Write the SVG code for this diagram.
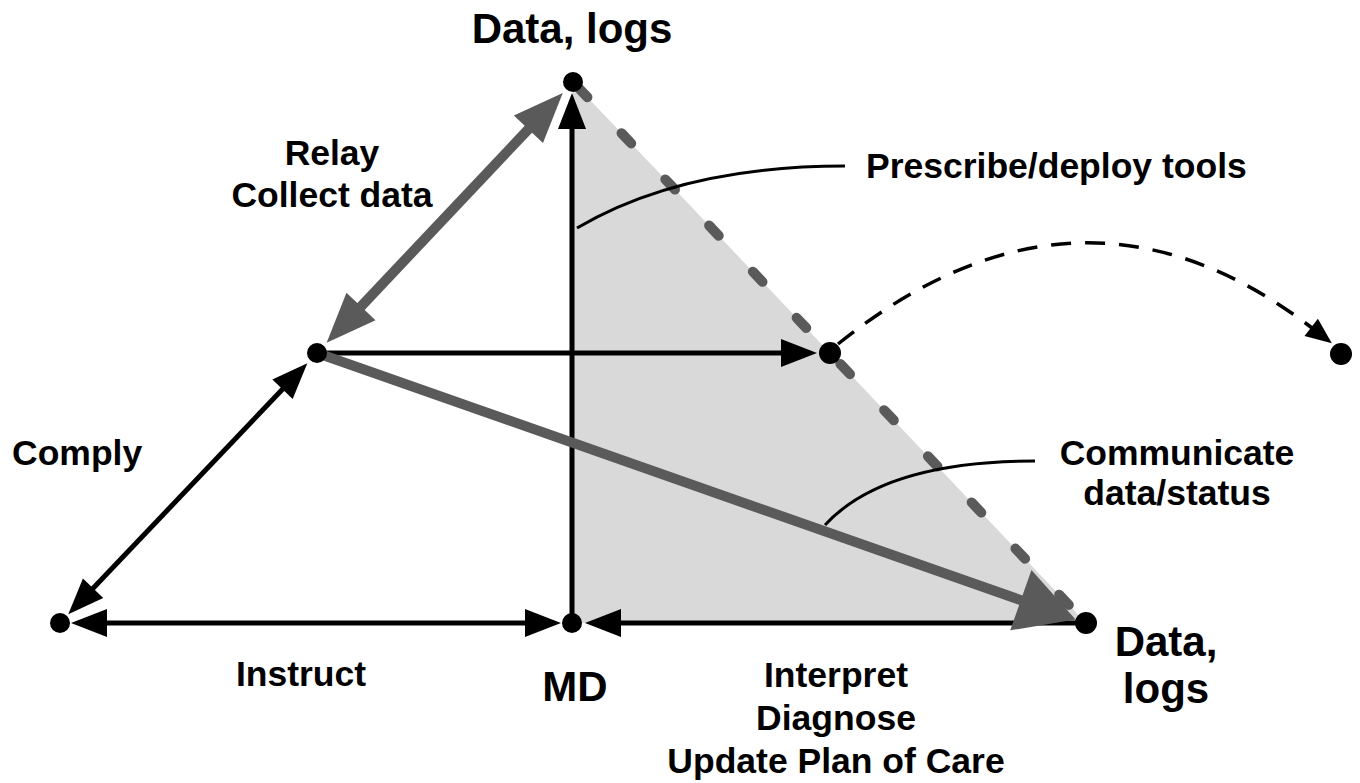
<svg xmlns="http://www.w3.org/2000/svg" width="1360" height="783" viewBox="0 0 1360 783">
  <style>
    .lbl { font-family: "Liberation Sans", Arial, Helvetica, sans-serif; font-weight: bold; font-size: 35.5px; fill: #000; }
    .big { font-size: 42px; }
    .blk { stroke: #000; stroke-width: 5; fill: none; }
    .gry { stroke: #5a5a5a; stroke-width: 10; fill: none; }
    .lead { stroke: #000; stroke-width: 3; fill: none; }
    .dot { fill: #000; }
  </style>
  <defs>
    <marker id="ab" markerUnits="userSpaceOnUse" viewBox="0 -16 40 32" markerWidth="40" markerHeight="32" refX="1" refY="0" orient="auto-start-reverse" overflow="visible">
      <path d="M0,-14 L36,0 L0,14 z" fill="#000"/>
    </marker>
    <marker id="gb" markerUnits="userSpaceOnUse" viewBox="0 -22 54 44" markerWidth="54" markerHeight="44" refX="1" refY="0" orient="auto-start-reverse" overflow="visible">
      <path d="M0,-20 L50,0 L0,20 z" fill="#5a5a5a"/>
    </marker>
    <marker id="gbig" markerUnits="userSpaceOnUse" viewBox="0 -34 62 68" markerWidth="62" markerHeight="68" refX="1" refY="0" orient="auto" overflow="visible">
      <path d="M0,-32 L58,0 L0,32 z" fill="#5a5a5a"/>
    </marker>
    <marker id="sb" markerUnits="userSpaceOnUse" viewBox="0 -13 30 26" markerWidth="30" markerHeight="26" refX="1" refY="0" orient="auto" overflow="visible">
      <path d="M0,-11 L26,0 L0,11 z" fill="#000"/>
    </marker>
  </defs>

  <rect x="0" y="0" width="1360" height="783" fill="#fff"/>

  <!-- shaded triangle -->
  <polygon id="shade" points="573,82 1086,623 572,623" fill="#d9d9d9"/>

  <g id="connectors">
    <!-- dashed hypotenuse -->
    <line x1="573" y1="82" x2="1086" y2="623" stroke="#5a5a5a" stroke-width="10" stroke-linecap="round" stroke-dasharray="14 49.6" stroke-dashoffset="56.6"/>
    <!-- vertical MD to top -->
    <line class="blk" x1="572" y1="623" x2="572" y2="128" marker-end="url(#ab)"/>
    <!-- horizontal -->
    <line class="blk" x1="317" y1="353" x2="782" y2="353" marker-end="url(#ab)"/>
    <!-- Instruct -->
    <line class="blk" x1="106" y1="623" x2="526" y2="623" marker-start="url(#ab)" marker-end="url(#ab)"/>
    <!-- Interpret -->
    <line class="blk" x1="1086" y1="623" x2="620" y2="623" marker-end="url(#ab)"/>
    <!-- Comply -->
    <line class="blk" x1="92.4" y1="589" x2="283.2" y2="388.5" marker-start="url(#ab)" marker-end="url(#ab)"/>
    <!-- Relay / Collect data -->
    <line class="gry" x1="360.3" y1="307.2" x2="529.1" y2="128.5" marker-start="url(#gb)" marker-end="url(#gb)"/>
    <!-- Communicate -->
    <line class="gry" x1="317" y1="353" x2="1021.8" y2="600.5" marker-end="url(#gbig)"/>
    <!-- dashed curve -->
    <path d="M838,344 Q1080,150 1312,328" fill="none" stroke="#000" stroke-width="3.5" stroke-dasharray="20 14" marker-end="url(#sb)"/>
    <!-- leaders -->
    <path class="lead" d="M577,228 Q682,166 845,166"/>
    <path class="lead" d="M825,525 Q884,461 1035,461"/>
  </g>

  <g id="node-top"><circle class="dot" cx="573" cy="82" r="10"/></g>
  <g id="node-relay"><circle class="dot" cx="317" cy="353" r="10"/></g>
  <g id="node-patient"><circle class="dot" cx="60" cy="623" r="10"/></g>
  <g id="node-md"><circle class="dot" cx="572" cy="623" r="10"/></g>
  <g id="node-right"><circle class="dot" cx="1086" cy="623" r="11"/></g>
  <g id="node-mid"><circle class="dot" cx="830" cy="353" r="11"/></g>
  <g id="node-far"><circle class="dot" cx="1341" cy="354" r="11"/></g>

  <g id="labels">
    <text class="lbl big" x="572" y="43" text-anchor="middle">Data, logs</text>
    <text class="lbl" x="332" y="165" text-anchor="middle">Relay</text>
    <text class="lbl" x="332" y="207" text-anchor="middle">Collect data</text>
    <text class="lbl" x="866" y="178">Prescribe/deploy tools</text>
    <text class="lbl" x="1177" y="465" text-anchor="middle">Communicate</text>
    <text class="lbl" x="1177" y="505" text-anchor="middle">data/status</text>
    <text class="lbl" x="12" y="465">Comply</text>
    <text class="lbl" x="301" y="686" text-anchor="middle">Instruct</text>
    <text class="lbl big" x="575" y="701" text-anchor="middle">MD</text>
    <text class="lbl" x="836" y="687" text-anchor="middle">Interpret</text>
    <text class="lbl" x="836" y="730" text-anchor="middle">Diagnose</text>
    <text class="lbl" x="836" y="773" text-anchor="middle">Update Plan of Care</text>
    <text class="lbl big" x="1166" y="656" text-anchor="middle">Data,</text>
    <text class="lbl big" x="1166" y="703" text-anchor="middle">logs</text>
  </g>
</svg>
